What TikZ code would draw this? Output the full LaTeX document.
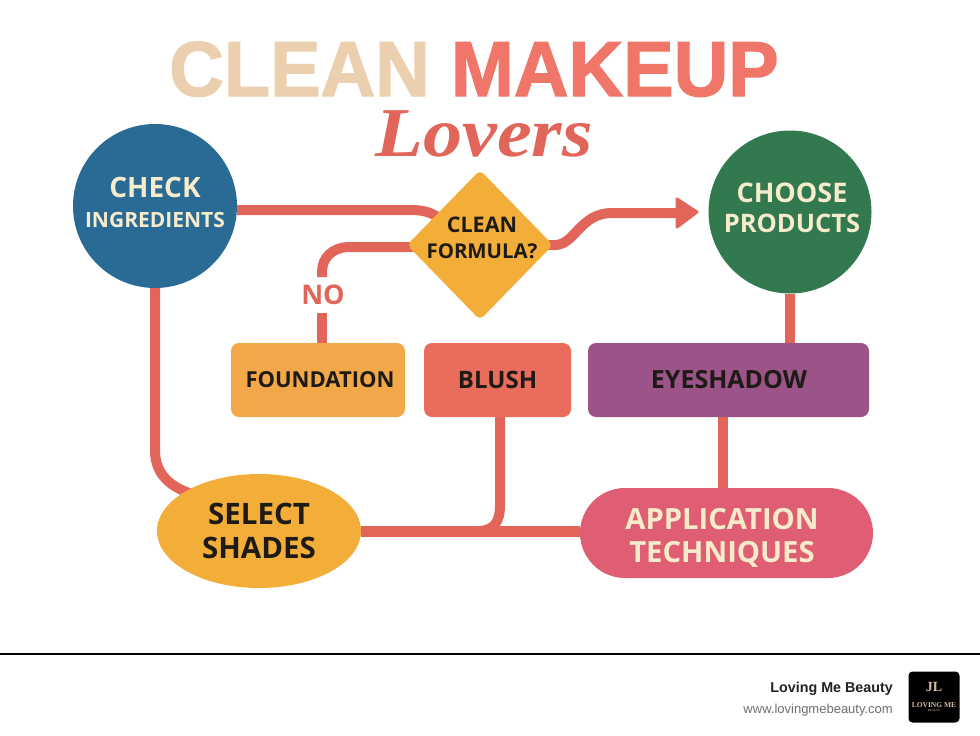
\documentclass[tikz,border=0pt]{standalone}
\usepackage{fontspec}
\setmainfont{Open Sans}
\newfontfamily\titlefont[FakeStretch=0.97,BoldFeatures={FakeBold=1.6}]{Liberation Sans}
\newfontfamily\loversfont[FakeStretch=1.12]{Liberation Serif}
\newfontfamily\logofont{Liberation Serif}
\newfontfamily\footfont{Liberation Sans}
\usetikzlibrary{shapes.geometric,backgrounds,calc,arrows.meta}
\newcommand\sz[1]{\fontsize{#1}{#1}\selectfont}
\definecolor{linecol}{HTML}{E2655A}
\definecolor{cream}{HTML}{F6EBCB}
\definecolor{inkdark}{HTML}{1E1A16}
\definecolor{amber}{HTML}{F3AE3A}
\definecolor{cblue}{HTML}{2A6B96}
\definecolor{cgreen}{HTML}{32794F}
\definecolor{cfound}{HTML}{F2A848}
\definecolor{cblush}{HTML}{E96C5C}
\definecolor{cpurple}{HTML}{9C5388}
\definecolor{cpink}{HTML}{DF5E73}
\definecolor{ctan}{HTML}{EBCFAE}
\definecolor{csalmon}{HTML}{F0766A}
\definecolor{cbrand}{HTML}{222222}
\definecolor{curl}{HTML}{6E6E6E}
\definecolor{cgold}{HTML}{D6BEA0}
\tikzset{
  flowline/.style={draw=linecol,line width=10pt},
  lab/.style={align=center,font=\bfseries\fontsize{25}{30}\selectfont,inner sep=0pt},
  darklab/.style={lab,text=inkdark},
  lightlab/.style={lab,text=cream},
  boxnode/.style={rectangle,rounded corners=8pt,minimum height=74pt},
}
\begin{document}
\begin{tikzpicture}[x=1pt,y=-1pt]
\useasboundingbox (0,0) rectangle (980,736);
% title
\node[inner sep=0pt,anchor=base,font=\titlefont\bfseries\fontsize{78}{78}\selectfont] (title) at (474,96) {\textcolor{ctan}{CLEAN} \textcolor{csalmon}{MAKEUP}};
\node[inner sep=0pt,anchor=base,text=linecol,font=\loversfont\bfseries\itshape\fontsize{70}{70}\selectfont] (lovers) at (484,156.5) {Lovers};
% nodes
\node[circle,fill=cblue,minimum size=164pt,inner sep=0pt] (check) at (155,206) {};
\node[lightlab] (checkt) at (155,202) {{\sz{28}CHECK}\\{\sz{21}INGREDIENTS}};
\node[circle,fill=cgreen,minimum size=163pt,inner sep=0pt] (choose) at (790,212) {};
\node[lightlab,font=\bfseries\fontsize{27}{30.5}\selectfont] (chooset) at (792,208) {CHOOSE\\{\sz{25.5}PRODUCTS}};
\node[diamond,fill=amber,minimum width=146pt,minimum height=150pt,inner sep=0pt,rounded corners=5pt] (formula) at (480,245) {};
\node[darklab,font=\bfseries\fontsize{21.5}{25.5}\selectfont] (formulat) at (482,238) {CLEAN\\{\sz{20.4}FORMULA?}};
\node[boxnode,fill=cfound,minimum width=174pt] (foundation) at (318,380) {};
\node[darklab,font=\bfseries\fontsize{22}{26}\selectfont] (foundationt) at (320,380) {FOUNDATION};
\node[boxnode,fill=cblush,minimum width=147pt] (blush) at (497.5,380) {};
\node[darklab,font=\bfseries\fontsize{24}{28}\selectfont] (blusht) at (497.5,380) {BLUSH};
\node[boxnode,fill=cpurple,minimum width=281pt] (eyeshadow) at (728.5,380) {};
\node[darklab] (eyeshadowt) at (729,380) {EYESHADOW};
\node[ellipse,fill=amber,minimum width=204pt,minimum height=114pt,inner sep=0pt] (select) at (259,531) {};
\node[darklab,font=\bfseries\fontsize{29.5}{34}\selectfont] (selectt) at (259,531) {SELECT\\SHADES};
\node[rectangle,rounded corners=45pt,fill=cpink,minimum width=293pt,minimum height=90pt] (apply) at (726.5,533) {};
\node[lightlab,font=\bfseries\fontsize{29.2}{32.5}\selectfont] (applyt) at (722,538) {APPLICATION\\TECHNIQUES};
\node[inner sep=0pt,text=linecol,font=\bfseries\fontsize{27}{27}\selectfont] (no) at (323,295) {NO};
\coordinate (notop) at (322,277);
\coordinate (nobot) at (322,313);
\coordinate (arrowtip) at (697,212);
% connectors
\begin{pgfonlayer}{background}
\fill[white] (0,0) rectangle (980,736);
\draw[flowline] (check.east |- 0,210) -- (410,210) .. controls (424,210) and (432,212) .. ($(formula.center)+(-35,-23)$);
\draw[flowline] ($(formula.west)+(8,2)$) -- (350,247) .. controls (332,247) and (322,258) .. (notop |- 0,272) -- (notop);
\draw[flowline] (nobot) -- (nobot |- foundation.north);
\draw[flowline] ($(formula.east)+(-8,0)$) -- (555,245) .. controls (575,245) and (580,213) .. (612,213) -- (680,213);
\fill[linecol,draw=linecol,line width=3pt,line join=round] (677,199) -- (arrowtip) -- (677,227) -- cycle;
\draw[flowline] (check.south) -- (155,450) .. controls (155,470) and (165,486) .. ($(select.center)+(-64,-36)$);
\draw[flowline,line width=11pt] (select.east) -- (apply.west |- select.east);
\draw[flowline] (blush.south -| 500,0) -- (500,505) .. controls (500,522) and (494,531) .. (478,531);
\draw[flowline] (choose.south) -- (choose.south |- eyeshadow.north);
\draw[flowline] (723,417) -- (723,488);
\end{pgfonlayer}
% footer
\draw[black,line width=2pt] (0,654) -- (980,654);
\node[anchor=base east,inner sep=0pt,text=cbrand,font=\footfont\bfseries\fontsize{14.3}{14.3}\selectfont] (brand) at (893,692) {Loving Me Beauty};
\node[anchor=base east,inner sep=0pt,text=curl,font=\footfont\fontsize{13}{13}\selectfont] (url) at (893,713) {www.lovingmebeauty.com};
\node[rectangle,rounded corners=4pt,fill=black,minimum size=51pt,inner sep=0pt] (logo) at (934,697) {};
\node[inner sep=0pt,text=cgold,font=\logofont\bfseries\fontsize{7.5}{7.5}\selectfont] (logot) at (934,705) {LOVING ME};
\node[inner sep=0pt,text=cgold,font=\logofont\bfseries\fontsize{14}{14}\selectfont] (logom) at (934,687) {JL};
\node[inner sep=0pt,text=cgold,font=\logofont\fontsize{3}{3}\selectfont] (logob) at (934,711) {BEAUTY};
\end{tikzpicture}
\end{document}
